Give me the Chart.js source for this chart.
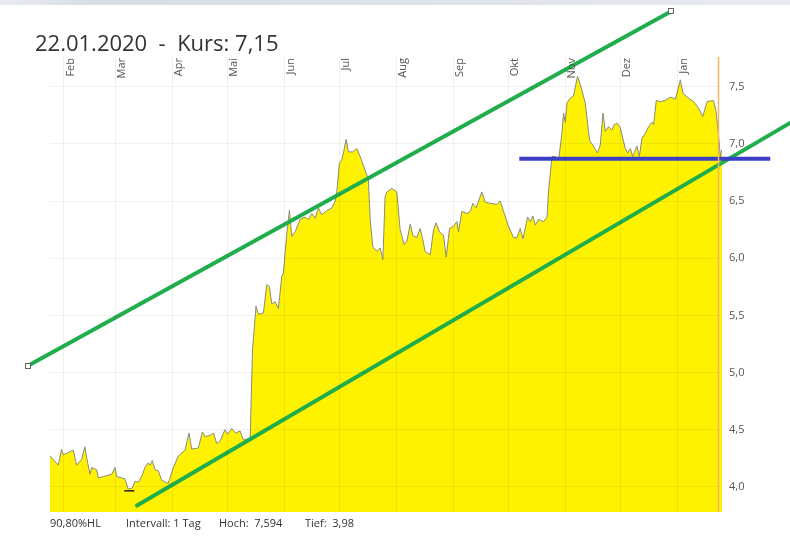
<!DOCTYPE html>
<html>
<head>
<meta charset="utf-8">
<script src="https://cdn.jsdelivr.net/npm/chart.js@4.4.1/dist/chart.umd.min.js"></script>
<style>
  body { margin: 0; background: #fff; font-family: "Open Sans", sans-serif; }
  #wrap { position: relative; width: 790px; height: 540px; overflow: hidden; }
  #topbar { position: absolute; left: 0; top: 0; width: 790px; height: 5px;
            background: linear-gradient(to right, #e9ecf1 0%, #d7dce5 12%, #dfe3ea 60%, #e8ebf0 100%); }
  #title { position: absolute; left: 35px; top: 30px; font-size: 22px; line-height: 24px; color: #333; white-space: pre; }
  .foot { position: absolute; top: 516px; font-size: 11px; line-height: 14px; color: #333; white-space: pre; }
  canvas { position: absolute; left: 0; top: 0; }
</style>
</head>
<body>
<div id="wrap">
  <canvas id="kursChart" width="790" height="540"></canvas>
  <div id="topbar"></div>
  <div id="title">22.01.2020  -  Kurs: 7,15</div>
  <div class="foot" style="left:50px">90,80%HL</div>
  <div class="foot" style="left:126px">Intervall: 1 Tag</div>
  <div class="foot" style="left:219px">Hoch:  7,594</div>
  <div class="foot" style="left:305px">Tief:  3,98</div>
</div>
<script>
// Tage seit 22.01.2019
const days = [2.4, 6.9, 8.7, 9.6, 15.1, 16.9, 19.6, 21.4, 22.9, 24.2, 25.1, 27.8, 28.7, 31.4, 36.0, 37.8, 38.7, 43.2, 45.0, 47.2,
  48.7, 50.5, 52.3, 54.1, 55.9, 56.9, 58.1, 59.6, 61.4, 63.2, 65.4, 66.8, 69.6, 72.3, 75.9, 78.1, 79.6, 83.2, 85.4, 86.8,
  89.6, 91.4, 93.2, 95.0, 97.7, 99.2, 101.4, 103.6, 105.9, 107.7, 110.4, 111.4, 112.7, 114.6, 115.9, 118.6, 120.5, 121.9, 123.2, 125.0,
  126.8, 128.6, 129.5, 131.4, 132.8, 134.1, 135.9, 138.6, 141.3, 143.1, 145.0, 146.8, 148.6, 150.4, 153.5, 155.9, 157.7, 158.6, 160.0, 161.3,
  162.2, 163.7, 164.9, 167.3, 169.5, 171.3, 174.0, 175.8, 176.8, 178.2, 180.4, 182.2, 183.7, 184.9, 185.9, 188.6, 191.3, 193.1, 195.3, 196.8,
  198.6, 200.0, 202.2, 204.0, 205.5, 206.7, 209.5, 211.3, 212.7, 214.5, 216.7, 218.2, 220.0, 222.2, 224.0, 224.9, 226.7, 229.5, 231.3, 232.7,
  234.5, 237.6, 239.4, 242.2, 245.8, 247.6, 249.4, 252.1, 254.9, 256.7, 258.5, 260.0, 262.5, 264.0, 265.4, 266.7, 268.5, 271.2, 273.1, 273.9,
  275.8, 277.6, 279.4, 281.2, 282.1, 283.0, 284.0, 285.8, 287.5, 289.7, 291.2, 293.9, 296.3, 298.4, 300.6, 302.1, 303.6, 304.8, 306.6, 308.5,
  309.7, 311.5, 313.0, 315.7, 317.0, 318.5, 319.7, 322.1, 323.4, 324.8, 326.6, 328.4, 330.3, 331.2, 332.6, 334.8, 337.5, 340.3, 343.0, 345.7,
  347.2, 350.2, 353.0, 355.7, 357.9, 360.3, 363.8, 365.2, 366.6, 367.5, 368.4];
const prices = [4.27, 4.19, 4.33, 4.28, 4.32, 4.19, 4.24, 4.35, 4.21, 4.11, 4.17, 4.15, 4.08, 4.09, 4.11, 4.17, 4.09, 4.07, 3.98, 3.99,
  4.05, 4.04, 4.09, 4.17, 4.21, 4.19, 4.23, 4.15, 4.14, 4.06, 4.04, 4.03, 4.17, 4.27, 4.32, 4.47, 4.33, 4.34, 4.48, 4.44,
  4.45, 4.47, 4.38, 4.40, 4.50, 4.46, 4.51, 4.47, 4.49, 4.41, 4.42, 4.42, 5.20, 5.58, 5.51, 5.52, 5.77, 5.75, 5.60, 5.62,
  5.56, 5.84, 5.87, 6.22, 6.42, 6.19, 6.23, 6.34, 6.36, 6.34, 6.39, 6.35, 6.44, 6.38, 6.42, 6.44, 6.50, 6.58, 6.83, 6.86,
  6.92, 7.04, 6.93, 6.93, 6.96, 6.89, 6.77, 6.69, 6.34, 6.10, 6.06, 6.09, 5.99, 6.54, 6.58, 6.61, 6.58, 6.25, 6.12, 6.15,
  6.30, 6.20, 6.18, 6.26, 6.16, 6.06, 6.03, 6.25, 6.31, 6.23, 6.20, 6.01, 6.26, 6.28, 6.32, 6.23, 6.41, 6.39, 6.41, 6.48,
  6.44, 6.58, 6.49, 6.48, 6.47, 6.50, 6.41, 6.28, 6.18, 6.18, 6.26, 6.17, 6.36, 6.32, 6.37, 6.29, 6.34, 6.32, 6.36, 6.58,
  6.89, 6.89, 6.86, 7.09, 7.27, 7.19, 7.36, 7.40, 7.42, 7.59, 7.52, 7.36, 7.03, 6.98, 6.92, 6.99, 7.27, 7.11, 7.15, 7.12,
  7.17, 7.18, 7.14, 6.96, 6.92, 6.96, 6.89, 6.98, 6.89, 7.05, 7.09, 7.15, 7.19, 7.17, 7.38, 7.37, 7.38, 7.41, 7.39, 7.56,
  7.44, 7.40, 7.37, 7.31, 7.24, 7.37, 7.38, 7.28, 7.06, 6.89, 6.95];

// Monatsanfaenge (Tage) und Beschriftung oben
const monthStarts = [10, 38, 69, 99, 130, 160, 191, 222, 252, 283, 313, 344];
const monthLabels = ['Feb', 'Mar', 'Apr', 'Mai', 'Jun', 'Jul', 'Aug', 'Sep', 'Okt', 'Nov', 'Dez', 'Jan'];
const priceTicks = [4.0, 4.5, 5.0, 5.5, 6.0, 6.5, 7.0, 7.5];

// Trendlinien (Anfangs-/Endpunkt)
const upperTrend = [[-9.6, 5.06], [340.8, 8.16]];
const lowerTrend = [[49.8, 3.836], [411.1, 7.236]];
const resistance = [[258.0, 6.87], [394.7, 6.87]];
const lowMark = [45.6, 3.965];
const todayDay = 366.3;

const toXY = arr => arr.map(p => ({ x: p[0], y: p[1] }));

// Monatsnamen + orange Tageslinie
const overlayPlugin = {
    id: 'overlay',
    afterDraw(chart) {
        const ctx = chart.ctx;
        const xs = chart.scales.x;
        const area = chart.chartArea;
        ctx.save();
        ctx.strokeStyle = '#f2b463';
        ctx.lineWidth = 1.5;
        const tx = Math.round(xs.getPixelForValue(todayDay)) + 0.5;
        ctx.beginPath();
        ctx.moveTo(tx, area.top);
        ctx.lineTo(tx, area.bottom);
        ctx.stroke();

        ctx.fillStyle = '#555';
        ctx.font = '11px "Open Sans", sans-serif';
        ctx.textAlign = 'right';
        ctx.textBaseline = 'middle';
        monthStarts.forEach((d, i) => {
            const px = xs.getPixelForValue(d);
            ctx.save();
            ctx.translate(px + 6.5, area.top + 1);
            ctx.rotate(-Math.PI / 2);
            ctx.fillText(monthLabels[i], 0, 0);
            ctx.restore();
        });

        // kleine Endmarken der oberen Trendlinie
        const ys = chart.scales.y;
        ctx.fillStyle = '#fff';
        ctx.strokeStyle = '#666';
        ctx.lineWidth = 1;
        upperTrend.forEach(p => {
            const px = Math.round(xs.getPixelForValue(p[0]));
            const py = Math.round(ys.getPixelForValue(p[1]));
            ctx.fillRect(px - 2, py - 2, 4, 4);
            ctx.strokeRect(px - 2.5, py - 2.5, 5, 5);
        });
        ctx.restore();
    }
};

function initChart() {
    const ctx = document.getElementById('kursChart').getContext('2d');

    const data = {
        datasets: [{
            label: 'Kurs',
            data: days.map((d, i) => ({ x: d, y: prices[i] })),
            borderColor: '#8a8a7a',
            borderWidth: 1,
            backgroundColor: '#fff200',
            fill: 'start',
            pointRadius: 0,
            tension: 0,
            order: 5
        }, {
            label: 'Trend oben',
            data: toXY(upperTrend),
            borderColor: '#1fae4b',
            borderWidth: 4,
            borderCapStyle: 'round',
            pointRadius: 0,
            clip: false,
            order: 2
        }, {
            label: 'Trend unten',
            data: toXY(lowerTrend),
            borderColor: '#1fae4b',
            borderWidth: 4,
            borderCapStyle: 'round',
            pointRadius: 0,
            clip: false,
            order: 2
        }, {
            label: 'Widerstand',
            data: toXY(resistance),
            borderColor: '#3a3fc6',
            borderWidth: 4,
            pointRadius: 0,
            clip: false,
            order: 1
        }, {
            label: 'Tief',
            data: [{ x: lowMark[0], y: lowMark[1] }],
            showLine: false,
            pointStyle: 'line',
            pointRadius: 5,
            pointBorderColor: '#222',
            pointBorderWidth: 1.5,
            order: 1
        }]
    };

    const config = {
        type: 'line',
        data: data,
        options: {
            responsive: false,
            animation: false,
            layout: { padding: { left: 50, top: 57, right: 0, bottom: 28 } },
            scales: {
                x: {
                    type: 'linear',
                    min: 2.4,
                    max: 368.4,
                    afterBuildTicks: scale => { scale.ticks = monthStarts.map(v => ({ value: v })); },
                    afterFit: scale => { scale.height = 0; },
                    ticks: { display: false },
                    grid: { color: 'rgba(0,0,0,0.06)', drawTicks: false, z: 1 },
                    border: { display: false }
                },
                y: {
                    position: 'right',
                    min: 3.78,
                    max: 7.76,
                    afterBuildTicks: scale => { scale.ticks = priceTicks.map(v => ({ value: v })); },
                    afterFit: scale => { scale.width = 68; },
                    ticks: {
                        padding: 7,
                        color: '#555',
                        font: { family: '"Open Sans", sans-serif', size: 11 },
                        callback: v => v.toFixed(1).replace('.', ',')
                    },
                    grid: { color: 'rgba(0,0,0,0.06)', drawTicks: false, z: 1 },
                    border: { display: false }
                }
            },
            plugins: {
                legend: { display: false },
                tooltip: { enabled: false }
            }
        },
        plugins: [overlayPlugin]
    };

    new Chart(ctx, config);
}

document.addEventListener('DOMContentLoaded', () => {
    initChart();
});
</script>
</body>
</html>
